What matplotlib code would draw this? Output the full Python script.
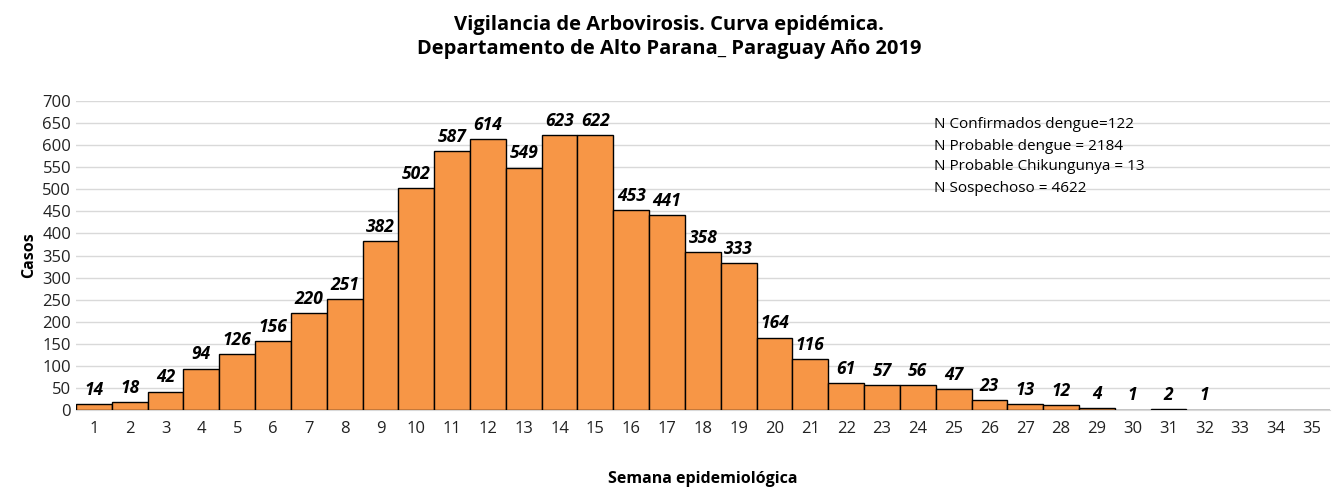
import numpy as np
import matplotlib.pyplot as plt

plt.rcParams['font.family'] = ['Open Sans', 'DejaVu Sans']

semanas = list(range(1, 36))
casos = [14, 18, 42, 94, 126, 156, 220, 251, 382, 502, 587, 614, 549, 623, 622,
         453, 441, 358, 333, 164, 116, 61, 57, 56, 47, 23, 13, 12, 4, 1, 2, 1,
         0, 0, 0]
notas = ["N Confirmados dengue=122",
         "N Probable dengue = 2184",
         "N Probable Chikungunya = 13",
         "N Sospechoso = 4622"]

fig = plt.figure(figsize=(13.38, 4.9), dpi=100)
ax = fig.add_axes([0.0568, 0.163, 0.937, 0.631])

x = np.arange(len(semanas))
ax.bar(x, casos, width=1.0, color='#F79646', edgecolor='black', linewidth=1.0, zorder=3)

# etiquetas de datos (no para semanas sin casos)
for xi, v in zip(x, casos):
    if v > 0:
        ax.text(xi, v + 12, str(v), ha='center', va='bottom', fontsize=12.5,
                fontweight='bold', fontstyle='italic', color='black', zorder=4)

ax.set_xlim(-0.5, len(semanas) - 0.5)
ax.set_ylim(0, 700)
ax.set_yticks(range(0, 701, 50))
ax.set_xticks(x)
ax.set_xticklabels([str(s) for s in semanas])
ax.tick_params(axis='both', length=0, labelsize=12, colors='#222222')
ax.tick_params(axis='x', pad=8)
ax.grid(axis='y', color='#d9d9d9', linewidth=1.0, zorder=0)
for s in ['top', 'right', 'left']:
    ax.spines[s].set_visible(False)
ax.spines['bottom'].set_color('#d9d9d9')

ax.set_ylabel("Casos", fontsize=11.5, fontweight='bold', labelpad=4)
ax.set_xlabel("Semana epidemiológica", fontsize=11.5, fontweight='bold', labelpad=24)

fig.text(0.5, 0.97, "Vigilancia de Arbovirosis. Curva epidémica.\nDepartamento de Alto Parana_ Paraguay Año 2019",
         ha='center', va='top', fontsize=14.5, fontweight='bold', linespacing=1.3)

for i, t in enumerate(notas):
    fig.text(0.698, 1 - (125 + 21 * i) / 490, t, ha='left', va='center', fontsize=11)

fig.savefig("out.png", dpi=100)
